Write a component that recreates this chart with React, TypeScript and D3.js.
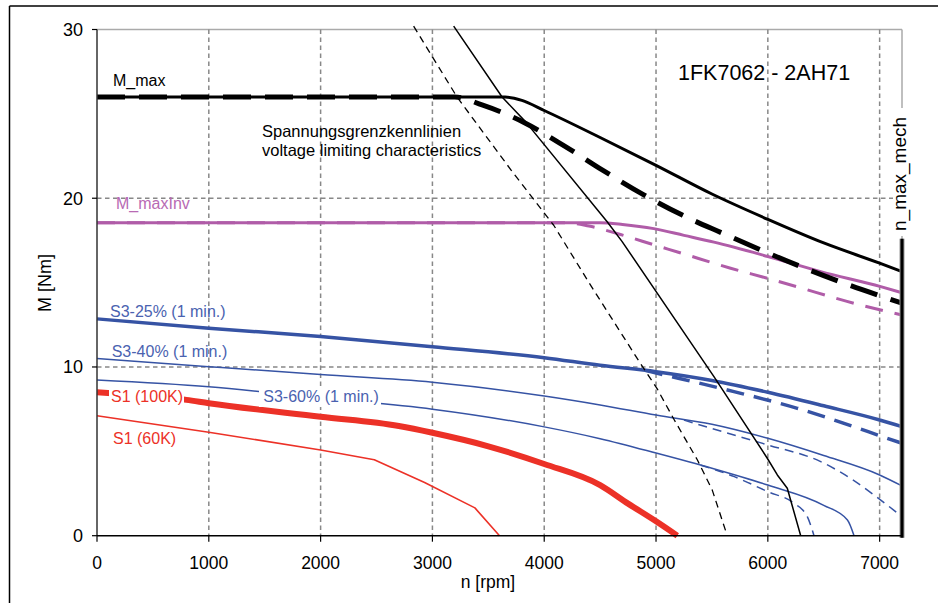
import React from "react";
import * as d3 from "d3";

type P = [number, number];

const nTicks = [0, 1000, 2000, 3000, 4000, 5000, 6000, 7000];
const mTicks = [0, 10, 20, 30];
const nGrid = [1000, 2000, 3000, 4000, 5000, 6000, 7000];
const mGrid = [10, 20];
const nMaxMech = 7200;
const nMaxMechTop = 17.6;

const mMaxSolid: P[] = [[0, 26], [3650, 26], [3800, 25.8], [4000, 25.2], [4500, 23.6], [5000, 21.95], [5500, 20.25], [6000, 18.75], [6500, 17.35], [7000, 16.15], [7200, 15.65]];
const mMaxDashed: P[] = [[0, 26], [3200, 26], [3444, 25.53], [3832, 24.45], [4190, 23.06], [4518, 21.68], [4891, 20.2], [5235, 19.0], [5593, 17.93], [5936, 16.94], [6294, 15.95], [6682, 14.96], [7070, 14.07], [7200, 13.78]];
const mMaxInvSolid: P[] = [[0, 18.55], [4500, 18.55], [4700, 18.45], [4980, 18.2], [5250, 17.8], [5518, 17.4], [6000, 16.55], [6473, 15.65], [7010, 14.76], [7200, 14.4]];
const mMaxInvDashed: P[] = [[0, 18.55], [4200, 18.55], [4400, 18.35], [4682, 17.85], [5000, 17.2], [5200, 16.8], [5667, 15.85], [6000, 15.25], [6264, 14.75], [6700, 13.9], [7200, 13.08]];
const s3_25Solid: P[] = [[0, 12.85], [1000, 12.3], [2000, 11.8], [3000, 11.2], [4000, 10.55], [4500, 10.1], [5000, 9.72], [5500, 9.2], [6000, 8.5], [6500, 7.7], [7000, 6.86], [7200, 6.46]];
const s3_25Dashed: P[] = [[4900, 9.8], [5190, 9.35], [5697, 8.54], [6264, 7.55], [6771, 6.46], [7025, 5.87], [7200, 5.48]];
const s3_40Solid: P[] = [[0, 10.5], [1000, 10.02], [2000, 9.55], [3000, 9.1], [4000, 8.28], [4500, 7.75], [5000, 7.15], [5500, 6.6], [6000, 5.77], [6500, 4.75], [7000, 3.6], [7200, 2.95]];
const s3_40Dashed: P[] = [[5250, 6.85], [5500, 6.35], [6000, 5.38], [6473, 4.39], [6750, 3.35], [6950, 2.41], [7200, 1.13]];
const s3_60Solid: P[] = [[0, 9.23], [1000, 8.83], [2000, 8.15], [3000, 7.5], [4000, 6.45], [4500, 5.75], [5000, 4.9], [5500, 4.0], [6000, 3.0], [6500, 1.8], [6712, 0.93], [6771, 0]];
const s3_60Dashed: P[] = [[5400, 4.18], [5700, 3.5], [6000, 2.61], [6234, 1.92], [6353, 1.13], [6413, 0]];
const s1_100: P[] = [[0, 8.5], [800, 8.05], [1000, 7.85], [2000, 7.05], [2700, 6.5], [3000, 6.1], [3500, 5.3], [4000, 4.25], [4500, 3.0], [4750, 1.9], [5000, 0.85], [5190, 0]];
const s1_60: P[] = [[0, 7.11], [1000, 6.13], [2000, 5.08], [2480, 4.5], [2930, 3.15], [3380, 1.65], [3600, 0]];
const voltSolid: P[] = [[3190, 30.2], [3623, 26.0], [3832, 24.54], [4563, 18.61], [4697, 17.43], [5518, 9.43], [5995, 4.59], [6085, 3.6], [6174, 2.81], [6294, 0]];
const voltDashed: P[] = [[2832, 30.2], [3220, 26.0], [3700, 21.7], [4085, 18.4], [4400, 15.0], [4861, 10.2], [5011, 8.7], [5160, 6.9], [5369, 4.5], [5503, 2.7], [5637, 0]];

const FONT = "'Liberation Sans', Arial, Helvetica, sans-serif";
const BLACK = "#000";
const MAG = "#b05ca8";
const BLUE = "#3653a4";
const RED = "#ec3127";

export default function App() {
  const x = d3.scaleLinear().domain([0, 7200]).range([97, 902]);
  const y = d3.scaleLinear().domain([0, 30]).range([535.7, 29.5]);
  const smooth = d3.line<P>().x((d) => x(d[0])).y((d) => y(d[1])).curve(d3.curveMonotoneX);
  const straight = d3.line<P>().x((d) => x(d[0])).y((d) => y(d[1]));

  const series = [
    { d: straight(s1_60), c: RED, w: 1.6, da: undefined },
    { d: smooth(s1_100), c: RED, w: 6, da: undefined },
    { d: smooth(s3_60Dashed), c: BLUE, w: 1.5, da: "9,6" },
    { d: smooth(s3_60Solid), c: BLUE, w: 1.5, da: undefined },
    { d: smooth(s3_40Dashed), c: BLUE, w: 1.5, da: "9,6" },
    { d: smooth(s3_40Solid), c: BLUE, w: 1.5, da: undefined },
    { d: smooth(s3_25Dashed), c: BLUE, w: 3.5, da: "18,10" },
    { d: smooth(s3_25Solid), c: BLUE, w: 3.5, da: undefined },
    { d: smooth(mMaxInvDashed), c: MAG, w: 3, da: "18,12" },
    { d: smooth(mMaxInvSolid), c: MAG, w: 3, da: undefined },
    { d: smooth(mMaxSolid), c: BLACK, w: 3, da: undefined },
    { d: smooth(mMaxDashed), c: BLACK, w: 5, da: "28,14" },
    { d: straight(voltDashed), c: BLACK, w: 1.3, da: "7,5" },
    { d: straight(voltSolid), c: BLACK, w: 1.5, da: undefined },
  ];

  const x0 = x(0), x1 = x(7200), y0 = y(0), yTop = y(30);

  return (
    <svg width={938} height={603} style={{ position: "absolute", left: 0, top: 0, background: "#fff" }} fontFamily={FONT}>
      <rect x={0} y={0} width={938} height={603} fill="#fff" />
      {/* outer frame */}
      <line x1={9.5} y1={6} x2={938} y2={6} stroke="#000" strokeWidth={1.5} />
      <line x1={9.5} y1={6} x2={9.5} y2={603} stroke="#000" strokeWidth={1.5} />

      {/* plot border (gray) */}
      <line x1={x0} y1={yTop} x2={x1} y2={yTop} stroke="#aaa" strokeWidth={1.5} />
      <line x1={x1} y1={yTop} x2={x1} y2={y0} stroke="#aaa" strokeWidth={1.5} />

      {/* grid */}
      {nGrid.map((n) => (
        <line key={"gx" + n} x1={x(n)} y1={yTop} x2={x(n)} y2={y0} stroke="#888" strokeWidth={1.5} strokeDasharray="4.5,3.5" />
      ))}
      {mGrid.map((m) => (
        <line key={"gy" + m} x1={x0} y1={y(m)} x2={x1} y2={y(m)} stroke="#888" strokeWidth={1.5} strokeDasharray="4.5,3.5" />
      ))}

      {/* series */}
      {series.map((s, i) => (
        <path key={i} d={s.d || ""} fill="none" stroke={s.c} strokeWidth={s.w} strokeDasharray={s.da} strokeLinejoin="round" />
      ))}

      {/* n_max_mech vertical */}
      <line x1={x(nMaxMech)} y1={y(nMaxMechTop)} x2={x(nMaxMech)} y2={y0 + 2} stroke="#999" strokeWidth={5} />
      <line x1={x(nMaxMech)} y1={y(nMaxMechTop)} x2={x(nMaxMech)} y2={y0 + 2} stroke="#000" strokeWidth={3} />

      {/* axes */}
      <line x1={x0} y1={yTop} x2={x0} y2={y0} stroke="#333" strokeWidth={1.5} />
      <line x1={x0} y1={y0} x2={x1} y2={y0} stroke="#000" strokeWidth={1.5} />
      {mTicks.map((m) => (
        <g key={"ty" + m}>
          <line x1={x0 - 5} y1={y(m)} x2={x0} y2={y(m)} stroke="#000" strokeWidth={1.2} />
          <text x={83} y={y(m)} dy="0.36em" textAnchor="end" fontSize={18} fill="#000">{m}</text>
        </g>
      ))}
      {nTicks.map((n) => (
        <g key={"tx" + n}>
          <line x1={x(n)} y1={y0} x2={x(n)} y2={y0 + 6} stroke="#000" strokeWidth={1.2} />
          <text x={x(n)} y={569} textAnchor="middle" fontSize={17.5} fill="#000">{n}</text>
        </g>
      ))}
      <text x={488} y={588} textAnchor="middle" fontSize={17.5} fill="#000">n [rpm]</text>
      <text transform="translate(51,283) rotate(-90)" textAnchor="middle" fontSize={18} fill="#000">M [Nm]</text>

      {/* labels */}
      <text x={113} y={85.7} fontSize={16} fill="#000">M_max</text>
      <text x={116} y={209} fontSize={16} fill="#b86ab4">M_maxInv</text>
      <text x={110} y={316.7} fontSize={16} fill="#4a62b0">S3-25% (1 min.)</text>
      <text x={111.7} y={356.7} fontSize={16} fill="#4a62b0">S3-40% (1 min.)</text>
      <rect x={259} y={388} width={122} height={19} fill="#fff" />
      <text x={263.3} y={401.7} fontSize={16} fill="#4a62b0">S3-60% (1 min.)</text>
      <rect x={109} y={388} width={75} height={19} fill="#fff" />
      <text x={111} y={401.7} fontSize={16} fill={RED}>S1 (100K)</text>
      <text x={113} y={444} fontSize={16} fill={RED}>S1 (60K)</text>
      <text x={262} y={137.3} fontSize={16.5} fill="#000">Spannungsgrenzkennlinien</text>
      <text x={262} y={155.7} fontSize={16.5} fill="#000">voltage limiting characteristics</text>
      <text x={678} y={80} fontSize={21.5} fill="#000">1FK7062 - 2AH71</text>
      <rect x={893} y={108} width={18} height={128} fill="#fff" />
      <text transform="translate(905.5,231) rotate(-90)" fontSize={19} fill="#000">n_max_mech</text>
    </svg>
  );
}
